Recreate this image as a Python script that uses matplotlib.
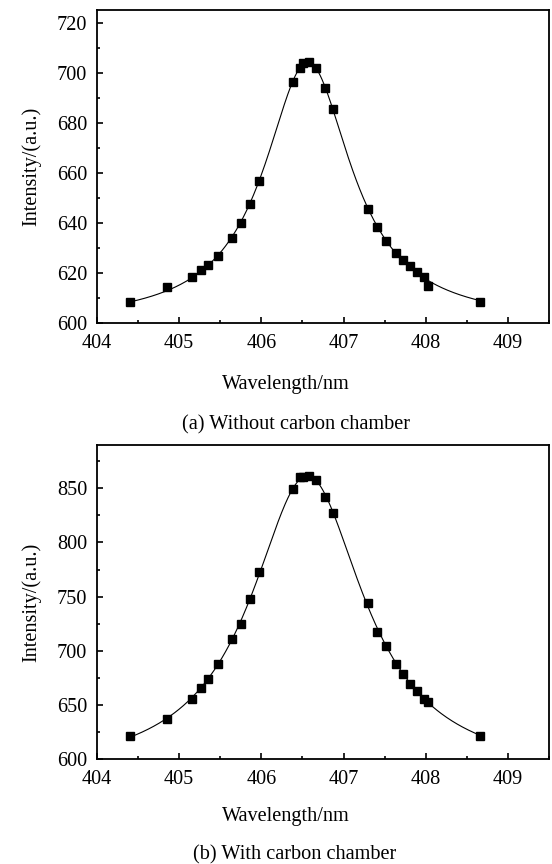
import numpy as np
import matplotlib
matplotlib.use('Agg')
import matplotlib.pyplot as plt
from matplotlib.ticker import MultipleLocator

plt.rcParams['font.family'] = ['Liberation Serif', 'DejaVu Serif']

# wavelengths (same for both panels)
wl = [404.40, 404.85, 405.15, 405.26, 405.35, 405.47, 405.64, 405.75, 405.86, 405.97,
      406.38, 406.47, 406.51, 406.58, 406.66, 406.78, 406.87, 407.30, 407.41, 407.52,
      407.64, 407.72, 407.81, 407.89, 407.98, 408.03, 408.66]

# (a) without carbon chamber
int_a = [608.2, 614.4, 618.5, 621.0, 623.3, 626.8, 633.9, 640.1, 647.7, 656.7,
         696.2, 701.9, 703.9, 704.3, 701.8, 693.7, 685.3, 645.6, 638.4, 632.7,
         627.9, 625.0, 622.6, 620.3, 618.5, 614.6, 608.2]

# (b) with carbon chamber
int_b = [621.7, 637.1, 655.8, 666.0, 673.7, 687.8, 710.8, 724.7, 747.4, 772.3,
         849.4, 860.1, 860.8, 861.4, 857.4, 842.0, 827.0, 744.3, 717.6, 704.7,
         687.8, 678.3, 669.7, 662.6, 655.5, 652.5, 621.7]

fs = 14.6


def lorentz_fit(x, y):
    # grid over centre/width, linear lstsq for offset and area
    x = np.asarray(x)
    y = np.asarray(y)
    best = None
    for xc in np.arange(406.3, 406.9, 0.005):
        for w in np.arange(0.3, 3.0, 0.01):
            L = w / (4 * (x - xc) ** 2 + w ** 2)
            M = np.column_stack([np.ones_like(x), L])
            coef, res, _, _ = np.linalg.lstsq(M, y, rcond=None)
            r = np.sum((M @ coef - y) ** 2)
            if best is None or r < best[0]:
                best = (r, xc, w, coef)
    _, xc, w, coef = best
    xf = np.linspace(x.min(), x.max(), 400)
    yf = coef[0] + coef[1] * w / (4 * (xf - xc) ** 2 + w ** 2)
    return xf, yf


fig = plt.figure(figsize=(5.52, 8.64), dpi=100)
ax1 = fig.add_axes([97/552, 1-323/864, 452/552, 313/864])
ax2 = fig.add_axes([97/552, 1-759/864, 452/552, 314/864])

for ax, y, ylim, major, minor in [(ax1, int_a, (600, 725), 20, 10),
                                  (ax2, int_b, (600, 890), 50, 25)]:
    xf, yf = lorentz_fit(wl, y)
    ax.plot(xf, yf, color='black', lw=0.8)
    ax.plot(wl, y, 's', color='black', ms=5.8)
    ax.set_xlim(404, 409.5)
    ax.set_ylim(*ylim)
    ax.xaxis.set_major_locator(MultipleLocator(1))
    ax.xaxis.set_minor_locator(MultipleLocator(0.5))
    ax.yaxis.set_major_locator(MultipleLocator(major))
    ax.yaxis.set_minor_locator(MultipleLocator(minor))
    ax.tick_params(which='both', direction='in', labelsize=fs, width=1.2)
    ax.tick_params(which='major', length=4.5)
    ax.tick_params(which='minor', length=2.5)
    ax.tick_params(axis='x', pad=8)
    ax.tick_params(axis='y', pad=7)
    for s in ax.spines.values():
        s.set_linewidth(1.3)
    ax.set_ylabel('Intensity/(a.u.)', fontsize=fs, labelpad=11)

fig.text(286/552, 1-385/864, 'Wavelength/nm', fontsize=fs, ha='center', va='center')
fig.text(296/552, 1-425/864, '(a) Without carbon chamber', fontsize=fs, ha='center', va='center')
fig.text(286/552, 1-817/864, 'Wavelength/nm', fontsize=fs, ha='center', va='center')
fig.text(295/552, 1-855/864, '(b) With carbon chamber', fontsize=fs, ha='center', va='center')

plt.savefig('out.png', dpi=100)
